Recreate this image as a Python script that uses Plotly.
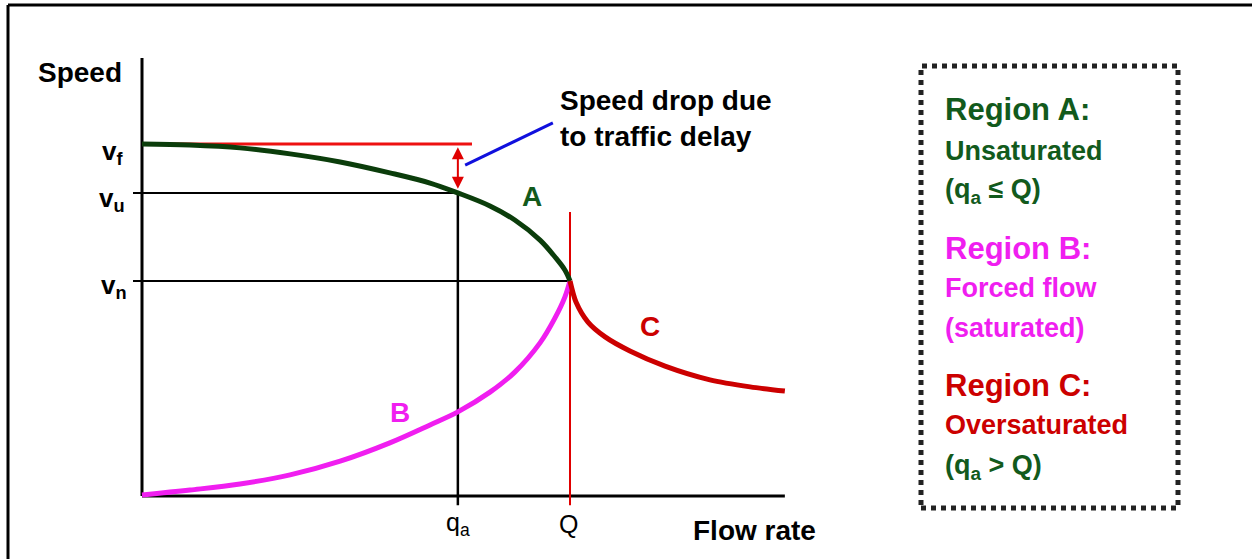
import plotly.graph_objects as go

# speed-flow diagram, flow in units of capacity Q, speed in units of free speed vf
Q = 1.0
qa = 0.738
vf = 1.0
vu = 0.861
vn = 0.611

# region A: unsaturated branch
flow_a = [0, 0.112, 0.229, 0.346, 0.463, 0.579, 0.673, 0.738, 0.813, 0.871, 0.930, 0.965, 0.988, 1.0]
speed_a = [1.0, 0.997, 0.989, 0.972, 0.949, 0.918, 0.889, 0.861, 0.824, 0.784, 0.727, 0.679, 0.642, 0.611]
# region B: forced flow branch
flow_b = [0, 0.112, 0.229, 0.346, 0.463, 0.579, 0.673, 0.738, 0.813, 0.871, 0.930, 0.965, 0.988, 1.0]
speed_b = [0.003, 0.017, 0.034, 0.060, 0.099, 0.151, 0.202, 0.239, 0.295, 0.352, 0.435, 0.506, 0.565, 0.611]
# region C: oversaturated
flow_c = [1.0, 1.014, 1.042, 1.082, 1.140, 1.222, 1.327, 1.421, 1.502]
speed_c = [0.611, 0.551, 0.494, 0.452, 0.412, 0.369, 0.330, 0.310, 0.298]

GREEN = "#0b3d0b"
GREEN_TXT = "#125a1c"
MAGENTA = "#f01ef0"
RED_TXT = "#cc0000"
FONT = "Liberation Sans"

W, H = 1252, 559
X0, Y0 = 142, 496        # pixel position of the origin
SX, SY = 428.0, 352.0    # pixels per unit


def P(px, py):
    # pixel -> paper coords (margins are zero)
    return px / W, 1 - py / H


fig = go.Figure()

fig.add_trace(go.Scatter(x=flow_b, y=speed_b, mode="lines",
                         line=dict(color=MAGENTA, width=5, shape="spline")))
fig.add_trace(go.Scatter(x=flow_c, y=speed_c, mode="lines",
                         line=dict(color="#cc0000", width=5, shape="spline", smoothing=0.8)))
fig.add_trace(go.Scatter(x=flow_a, y=speed_a, mode="lines",
                         line=dict(color=GREEN, width=5, shape="spline")))

x_end = flow_c[-1]
shapes = [
    # axes
    dict(type="line", x0=0, y0=0, x1=0, y1=1.244, line=dict(color="black", width=3)),
    dict(type="line", x0=0, y0=0, x1=x_end, y1=0, line=dict(color="black", width=3)),
    # guide lines
    dict(type="line", x0=-0.021, y0=vu, x1=qa, y1=vu, line=dict(color="black", width=2)),
    dict(type="line", x0=-0.021, y0=vn, x1=Q, y1=vn, line=dict(color="black", width=2)),
    dict(type="line", x0=qa, y0=-0.026, x1=qa, y1=vu, line=dict(color="black", width=2.5)),
    dict(type="line", x0=Q, y0=-0.026, x1=Q, y1=0.807, line=dict(color="#e00000", width=2)),
    dict(type="line", x0=0, y0=vf, x1=0.771, y1=vf, line=dict(color="#ee1111", width=3)),
    # callout
    dict(type="line", x0=0.755, y0=0.940, x1=0.960, y1=1.060, line=dict(color="#1010dd", width=3)),
]
for s in shapes:
    s.update(xref="x", yref="y", layer="below")
fig.update_layout(shapes=shapes)

# page frame and region box
x1p, y1p = P(8, 5)
fig.add_shape(type="line", xref="paper", yref="paper", x0=x1p, y0=0, x1=x1p, y1=y1p,
              line=dict(color="black", width=3))
fig.add_shape(type="line", xref="paper", yref="paper", x0=x1p, y0=y1p, x1=1, y1=y1p,
              line=dict(color="black", width=3))
bx0, by0 = P(921, 66)
bx1, by1 = P(1178, 508)
fig.add_shape(type="rect", xref="paper", yref="paper", x0=bx0, y0=by1, x1=bx1, y1=by0,
              line=dict(color="#222222", width=5, dash="dot"))

anns = []


def txt(text, px, py, size, color="black", bold=True, xanchor="center", align="center"):
    x, y = P(px, py)
    t = "<b>%s</b>" % text if bold else text
    anns.append(dict(text=t, x=x, y=y, xref="paper", yref="paper", showarrow=False,
                     xanchor=xanchor, yanchor="middle", align=align,
                     font=dict(family=FONT, size=size, color=color)))


txt("Speed", 80, 73, 28)
txt("v<sub>f</sub>", 112, 152, 26)
txt("v<sub>u</sub>", 112, 199, 26)
txt("v<sub>n</sub>", 114, 286, 26)
txt("q<sub>a</sub>", 458, 524, 25, bold=False)
txt("Q", 568, 524, 25, bold=False)
txt("Flow rate", 754, 530, 28)
txt("Speed drop due<br>to traffic delay", 558, 119, 28, xanchor="left", align="left")
txt("A", 532, 196, 28, color=GREEN_TXT)
txt("B", 400, 412, 28, color=MAGENTA)
txt("C", 650, 327, 28, color=RED_TXT)

txt("Region A:", 943, 110, 31, color=GREEN_TXT, xanchor="left")
txt("Unsaturated", 943, 151, 27, color=GREEN_TXT, xanchor="left")
txt("(q<sub>a</sub> \u2264 Q)", 943, 191, 27, color=GREEN_TXT, xanchor="left")
txt("Region B:", 943, 248, 31, color=MAGENTA, xanchor="left")
txt("Forced flow", 943, 288, 27, color=MAGENTA, xanchor="left")
txt("(saturated)", 943, 328, 27, color=MAGENTA, xanchor="left")
txt("Region C:", 943, 385, 31, color=RED_TXT, xanchor="left")
txt("Oversaturated", 943, 425, 27, color=RED_TXT, xanchor="left")
txt("(q<sub>a</sub> > Q)", 943, 467, 27, color=GREEN_TXT, xanchor="left")

# speed drop double arrow
anns.append(dict(x=qa, y=vu + 0.012, ax=qa, ay=vf - 0.005, xref="x", yref="y",
                 axref="x", ayref="y", text="", showarrow=True, arrowhead=2,
                 arrowside="end+start", arrowsize=1.2, arrowwidth=2, arrowcolor="#e00000"))
fig.update_layout(annotations=anns)

fig.update_layout(
    width=W, height=H,
    margin=dict(l=0, r=0, t=0, b=0),
    showlegend=False,
    plot_bgcolor="white",
    paper_bgcolor="white",
    xaxis=dict(range=[-X0 / SX, (W - X0) / SX], visible=False, fixedrange=True),
    yaxis=dict(range=[-(H - Y0) / SY, Y0 / SY], visible=False, fixedrange=True),
)

# drop the browser's default 8px body margin so the figure fills the window
fig.write_html("out.html", config={"displayModeBar": False},
               post_script="document.body.style.margin='0';document.body.style.overflow='hidden';")
